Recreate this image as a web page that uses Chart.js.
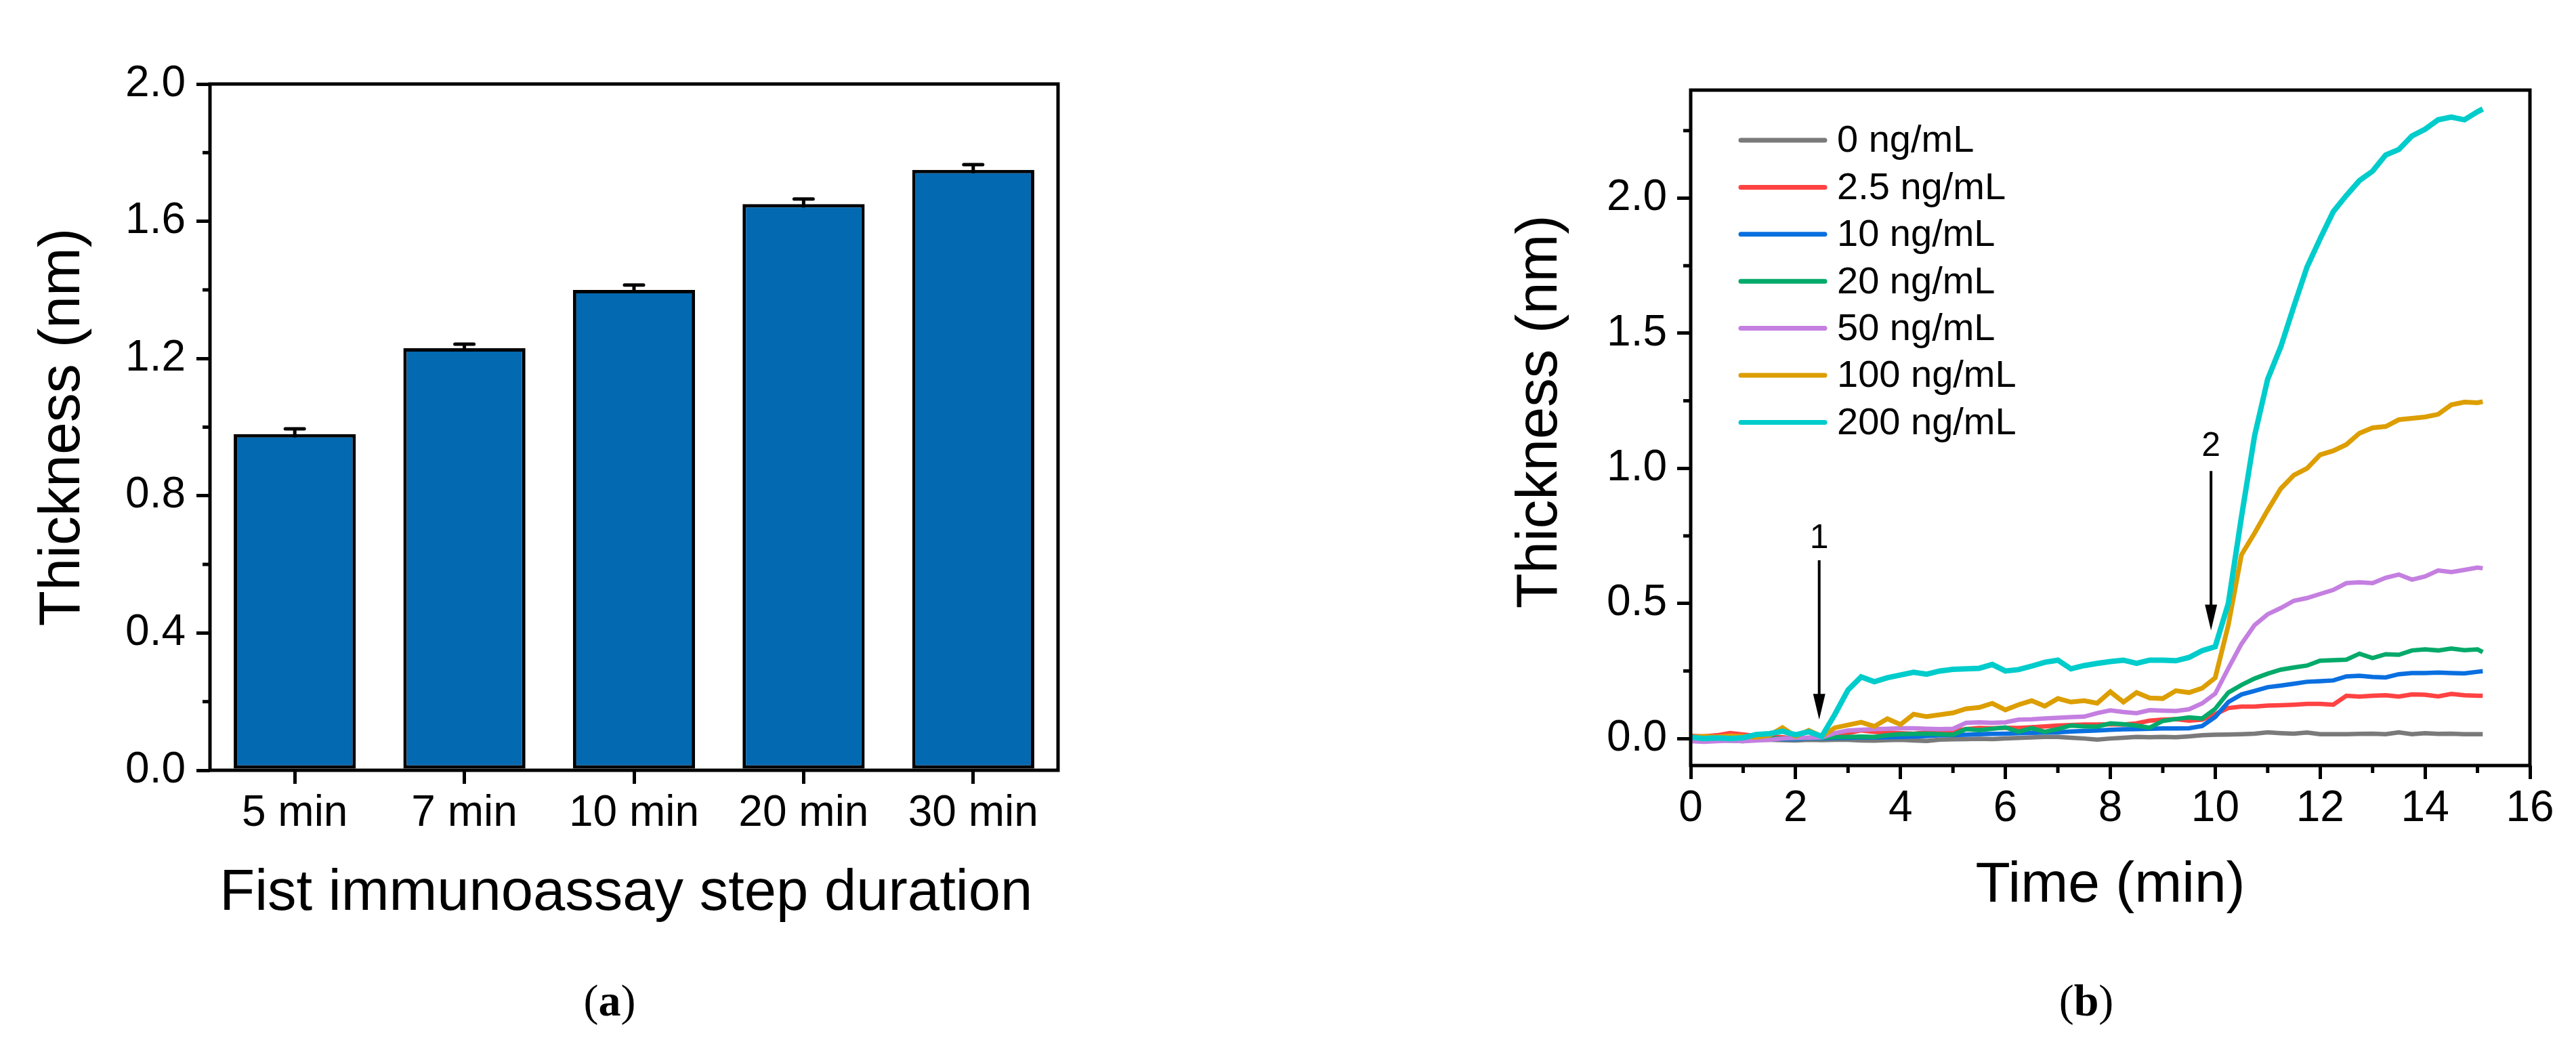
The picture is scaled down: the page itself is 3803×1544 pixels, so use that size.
<!DOCTYPE html>
<html><head><meta charset="utf-8">
<script src="https://cdn.jsdelivr.net/npm/chart.js@4.4.1/dist/chart.umd.min.js"></script>
<style>
html,body{margin:0;padding:0;background:#fff;width:3803px;height:1544px;overflow:hidden;}
#wa{position:absolute;left:0;top:0;width:1700px;height:1420px;}
#wb{position:absolute;left:2150px;top:0;width:1653px;height:1420px;}
.cap{position:absolute;top:1444px;width:200px;text-align:center;font-family:'Liberation Serif','Times New Roman',serif;font-size:66px;line-height:66px;color:#000;}
</style></head><body>
<div id="wa"><canvas id="ca" width="1700" height="1420"></canvas></div>
<div id="wb"><canvas id="cb" width="1653" height="1420"></canvas></div>
<div class="cap" style="left:800px">(<b>a</b>)</div>
<div class="cap" style="left:2980px">(<b>b</b>)</div>
<script>
// ---------- Panel (a) data ----------
const durations = ['5 min','7 min','10 min','20 min','30 min'];
const thickness = [0.98, 1.23, 1.40, 1.65, 1.75];
const thicknessErr = [0.015, 0.012, 0.014, 0.015, 0.015];
const barYTicks = [0, 0.4, 0.8, 1.2, 1.6, 2.0];
const barYMinor = [0.2, 0.6, 1.0, 1.4, 1.8];

// ---------- Panel (b) data ----------
const time = [0,0.25,0.5,0.75,1,1.25,1.5,1.75,2,2.25,2.5,2.75,3,3.25,3.5,3.75,4,4.25,4.5,4.75,5,5.25,5.5,5.75,6,6.25,6.5,6.75,7,7.25,7.5,7.75,8,8.25,8.5,8.75,9,9.25,9.5,9.75,10,10.25,10.5,10.75,11,11.25,11.5,11.75,12,12.25,12.5,12.75,13,13.25,13.5,13.75,14,14.25,14.5,14.75,15,15.1];
const c0 = [0.000,-0.002,-0.003,-0.004,-0.005,-0.004,-0.005,-0.006,-0.007,-0.005,
 -0.006,-0.005,-0.005,-0.007,-0.008,-0.006,-0.005,-0.007,-0.009,-0.004,
 -0.003,-0.002,-0.001,-0.002,0.000,0.002,0.004,0.006,0.006,0.003,
 0.000,-0.004,0.000,0.003,0.006,0.005,0.006,0.005,0.008,0.012,
 0.014,0.015,0.016,0.018,0.023,0.020,0.018,0.022,0.016,0.016,
 0.016,0.017,0.018,0.016,0.023,0.016,0.020,0.017,0.018,0.016,
 0.016,0.016];
const c2_5 = [0.010,0.008,0.012,0.020,0.015,0.010,0.008,0.005,0.000,0.003,
 0.004,0.006,0.020,0.030,0.025,0.022,0.020,0.018,0.022,0.023,
 0.028,0.035,0.039,0.038,0.040,0.039,0.042,0.045,0.048,0.050,
 0.052,0.052,0.053,0.052,0.056,0.066,0.070,0.072,0.066,0.070,
 0.090,0.113,0.118,0.118,0.122,0.123,0.125,0.128,0.128,0.125,
 0.158,0.155,0.158,0.160,0.155,0.163,0.162,0.156,0.165,0.160,
 0.158,0.158];
const c10 = [-0.003,-0.004,-0.003,-0.002,-0.003,-0.002,-0.002,-0.002,-0.002,0.000,
 0.001,0.002,0.003,0.004,0.004,0.005,0.006,0.007,0.009,0.012,
 0.013,0.014,0.016,0.017,0.018,0.020,0.021,0.022,0.023,0.026,
 0.028,0.030,0.032,0.034,0.035,0.036,0.037,0.037,0.038,0.046,
 0.080,0.135,0.163,0.176,0.190,0.196,0.203,0.210,0.212,0.215,
 0.230,0.232,0.228,0.226,0.238,0.242,0.242,0.244,0.242,0.241,
 0.247,0.249];
const c20 = [-0.005,-0.007,-0.006,-0.008,-0.010,-0.004,0.000,0.000,0.001,0.002,
 0.003,0.005,0.006,0.007,0.006,0.012,0.016,0.017,0.018,0.016,
 0.014,0.035,0.031,0.036,0.041,0.025,0.038,0.025,0.035,0.048,
 0.045,0.044,0.056,0.053,0.048,0.040,0.065,0.072,0.078,0.074,
 0.110,0.170,0.198,0.222,0.240,0.255,0.263,0.270,0.288,0.290,
 0.292,0.314,0.298,0.312,0.310,0.326,0.330,0.326,0.333,0.327,
 0.330,0.320];
const c50 = [-0.010,-0.012,-0.010,-0.008,-0.010,-0.007,-0.005,0.000,0.002,0.003,
 0.004,0.020,0.030,0.032,0.035,0.036,0.038,0.038,0.036,0.035,
 0.036,0.058,0.060,0.058,0.060,0.070,0.071,0.074,0.077,0.079,
 0.081,0.094,0.104,0.098,0.094,0.105,0.103,0.102,0.108,0.130,
 0.166,0.260,0.350,0.420,0.460,0.483,0.510,0.520,0.535,0.550,
 0.575,0.578,0.575,0.595,0.607,0.588,0.600,0.622,0.616,0.624,
 0.633,0.630];
const c100 = [0.005,0.008,0.006,0.010,0.008,0.005,0.012,0.040,0.008,0.030,
 0.008,0.040,0.050,0.060,0.045,0.073,0.052,0.090,0.081,0.088,
 0.095,0.110,0.115,0.130,0.106,0.125,0.140,0.120,0.148,0.135,
 0.140,0.131,0.173,0.135,0.170,0.150,0.148,0.177,0.170,0.186,
 0.225,0.420,0.680,0.760,0.845,0.925,0.975,1.000,1.050,1.065,
 1.088,1.130,1.150,1.155,1.180,1.185,1.190,1.200,1.235,1.245,
 1.243,1.247];
const c200 = [0.005,0.000,0.002,0.000,0.003,0.015,0.018,0.027,0.014,0.025,
 0.008,0.090,0.180,0.228,0.210,0.225,0.235,0.245,0.238,0.250,
 0.256,0.258,0.260,0.274,0.250,0.255,0.268,0.282,0.290,0.258,
 0.270,0.278,0.285,0.290,0.278,0.290,0.290,0.288,0.300,0.325,
 0.340,0.500,0.820,1.120,1.330,1.450,1.600,1.745,1.850,1.950,
 2.010,2.065,2.100,2.160,2.180,2.230,2.255,2.290,2.300,2.290,
 2.320,2.330];
const seriesLabels = ['0 ng/mL','2.5 ng/mL','10 ng/mL','20 ng/mL','50 ng/mL','100 ng/mL','200 ng/mL'];
const seriesValues = [c0, c2_5, c10, c20, c50, c100, c200];
const seriesColors = ['#7a7a7a','#ff4242','#0a6fe0','#05aa6a','#c47fe0','#dc9e00','#00cccc'];
const seriesWidths = [6.5, 6.5, 6.5, 6.5, 6.5, 7, 8];
const lineXTicks = [0,2,4,6,8,10,12,14,16];
const lineXMinor = [1,3,5,7,9,11,13,15];
const lineYTicks = [0,0.5,1.0,1.5,2.0];
const lineYMinor = [0.25,0.75,1.25,1.75,2.25];
const arrowTimes = [2.45, 9.92];
const arrowTips = [0.07, 0.40];
const arrowTails = [0.66, 0.99];
const arrowLabels = ['1','2'];
const arrowLabelVals = [0.74, 1.08];

Chart.defaults.font.family = '"Liberation Sans", Arial, Helvetica, sans-serif';
Chart.defaults.color = '#000';

const framePlugin = {
  id: 'frame',
  afterDraw(chart) {
    const {ctx, chartArea: a} = chart;
    const minor = chart.$minor || {};
    ctx.save();
    ctx.strokeStyle = '#000';
    ctx.lineWidth = 5;
    ctx.strokeRect(a.left, a.top, a.right - a.left, a.bottom - a.top);
    ctx.lineCap = 'butt';
    (minor.x || []).forEach(v => {
      const px = chart.scales.x.getPixelForValue(v);
      ctx.beginPath(); ctx.moveTo(px, a.bottom); ctx.lineTo(px, a.bottom + 11); ctx.stroke();
    });
    (minor.y || []).forEach(v => {
      const py = chart.scales.y.getPixelForValue(v);
      ctx.beginPath(); ctx.moveTo(a.left, py); ctx.lineTo(a.left - 11, py); ctx.stroke();
    });
    ctx.restore();
  }
};

const errPlugin = {
  id: 'errbars',
  beforeDatasetsDraw(chart) {
    const meta = chart.getDatasetMeta(0);
    const ys = chart.scales.y;
    const ctx = chart.ctx;
    ctx.save();
    ctx.strokeStyle = '#000';
    ctx.lineWidth = 5;
    meta.data.forEach((el, i) => {
      const v = thickness[i], e = thicknessErr[i];
      const yt = ys.getPixelForValue(v + e), yb = ys.getPixelForValue(v - e);
      ctx.lineCap = 'butt';
      ctx.beginPath(); ctx.moveTo(el.x, yb); ctx.lineTo(el.x, yt); ctx.stroke();
      ctx.lineCap = 'round';
      ctx.beginPath(); ctx.moveTo(el.x - 14, yt); ctx.lineTo(el.x + 14, yt); ctx.stroke();
    });
    ctx.restore();
  }
};

const legendPlugin = {
  id: 'inlegend',
  afterDraw(chart) {
    const {ctx, chartArea: a} = chart;
    ctx.save();
    ctx.font = '56px "Liberation Sans", Arial, sans-serif';
    ctx.textBaseline = 'middle';
    ctx.textAlign = 'left';
    ctx.fillStyle = '#000';
    chart.data.datasets.forEach((ds, i) => {
      const y = a.top + 74 + 69.4 * i;
      ctx.strokeStyle = ds.borderColor;
      ctx.lineWidth = 7;
      ctx.lineCap = 'round';
      ctx.beginPath(); ctx.moveTo(a.left + 74, y); ctx.lineTo(a.left + 198, y); ctx.stroke();
      ctx.fillText(ds.label, a.left + 216, y + 2);
    });
    ctx.restore();
  }
};

const arrowPlugin = {
  id: 'arrows',
  afterDatasetsDraw(chart) {
    const {ctx} = chart;
    const xs = chart.scales.x, ys = chart.scales.y;
    ctx.save();
    ctx.fillStyle = '#000';
    ctx.strokeStyle = '#000';
    ctx.lineWidth = 4;
    ctx.font = '50px "Liberation Sans", Arial, sans-serif';
    ctx.textAlign = 'center';
    ctx.textBaseline = 'middle';
    arrowTimes.forEach((t, i) => {
      const x = xs.getPixelForValue(t);
      const yTip = ys.getPixelForValue(arrowTips[i]);
      const yTail = ys.getPixelForValue(arrowTails[i]);
      const head = 38, hw = 9;
      ctx.beginPath(); ctx.moveTo(x, yTail); ctx.lineTo(x, yTip - head + 2); ctx.stroke();
      ctx.beginPath(); ctx.moveTo(x - hw, yTip - head); ctx.lineTo(x + hw, yTip - head); ctx.lineTo(x, yTip); ctx.closePath(); ctx.fill();
      ctx.fillText(arrowLabels[i], x, ys.getPixelForValue(arrowLabelVals[i]));
    });
    ctx.restore();
  }
};

const tickGrid = {display: true, offset: false, drawOnChartArea: false, drawTicks: true, tickLength: 20, lineWidth: 5, color: '#000'};

// ---------- Chart (a) ----------
const chartA = new Chart(document.getElementById('ca'), {
  type: 'bar',
  data: {
    labels: durations,
    datasets: [{
      data: thickness,
      backgroundColor: '#0369b1',
      borderColor: '#000',
      borderWidth: 5,
      borderSkipped: false,
      barPercentage: 0.72,
      categoryPercentage: 1.0
    }]
  },
  options: {
    responsive: false, animation: false, devicePixelRatio: 1,
    layout: {padding: {left: 0, top: 124, right: 138, bottom: 0}},
    plugins: {legend: {display: false}, tooltip: {enabled: false}},
    scales: {
      x: {
        grid: tickGrid, border: {display: false},
        ticks: {font: {size: 64}, color: '#000', padding: 6, maxRotation: 0, autoSkip: false},
        title: {display: true, text: 'Fist immunoassay step duration ', font: {size: 85}, color: '#000', padding: {top: 0, bottom: 49}},
        afterFit(s) { s.height = 283; }
      },
      y: {
        min: 0, max: 2,
        afterBuildTicks(s) { s.ticks = barYTicks.map(v => ({value: v})); },
        grid: tickGrid, border: {display: false},
        ticks: {font: {size: 64}, color: '#000', padding: 16, callback: v => Number(v).toFixed(1)},
        title: {display: true, text: 'Thickness (nm)', font: {size: 86}, color: '#000', padding: {top: 42, bottom: 0}},
        afterFit(s) { s.width = 310; }
      }
    }
  },
  plugins: [framePlugin, errPlugin]
});
chartA.$minor = {y: barYMinor};
chartA.draw();

// ---------- Chart (b) ----------
const lineDatasets = seriesLabels.map((lab, i) => ({
  label: lab,
  data: time.map((t, k) => ({x: t, y: seriesValues[i][k]})),
  borderColor: seriesColors[i],
  backgroundColor: seriesColors[i],
  borderWidth: seriesWidths[i],
  pointRadius: 0,
  tension: 0,
  fill: false,
  order: seriesLabels.length - 1 - i
}));

const chartB = new Chart(document.getElementById('cb'), {
  type: 'line',
  data: {datasets: lineDatasets},
  options: {
    responsive: false, animation: false, devicePixelRatio: 1,
    layout: {padding: {left: 0, top: 133, right: 68, bottom: 0}},
    plugins: {legend: {display: false}, tooltip: {enabled: false}},
    scales: {
      x: {
        type: 'linear', min: 0, max: 16,
        afterBuildTicks(s) { s.ticks = lineXTicks.map(v => ({value: v})); },
        grid: tickGrid, border: {display: false},
        ticks: {font: {size: 64}, color: '#000', padding: 6, maxRotation: 0, callback: v => String(v)},
        title: {display: true, text: 'Time (min)', font: {size: 84}, color: '#000', padding: {top: 0, bottom: 62}},
        afterFit(s) { s.height = 290; }
      },
      y: {
        type: 'linear', min: -0.1, max: 2.4,
        afterBuildTicks(s) { s.ticks = lineYTicks.map(v => ({value: v})); },
        grid: tickGrid, border: {display: false},
        ticks: {font: {size: 64}, color: '#000', padding: 15, callback: v => Number(v).toFixed(1)},
        title: {display: true, text: '  Thickness (nm)', font: {size: 85}, color: '#000', padding: {top: 74, bottom: 0}},
        afterFit(s) { s.width = 346; }
      }
    }
  },
  plugins: [framePlugin, arrowPlugin, legendPlugin]
});
chartB.$minor = {x: lineXMinor, y: lineYMinor};
chartB.draw();
</script>
</body></html>
